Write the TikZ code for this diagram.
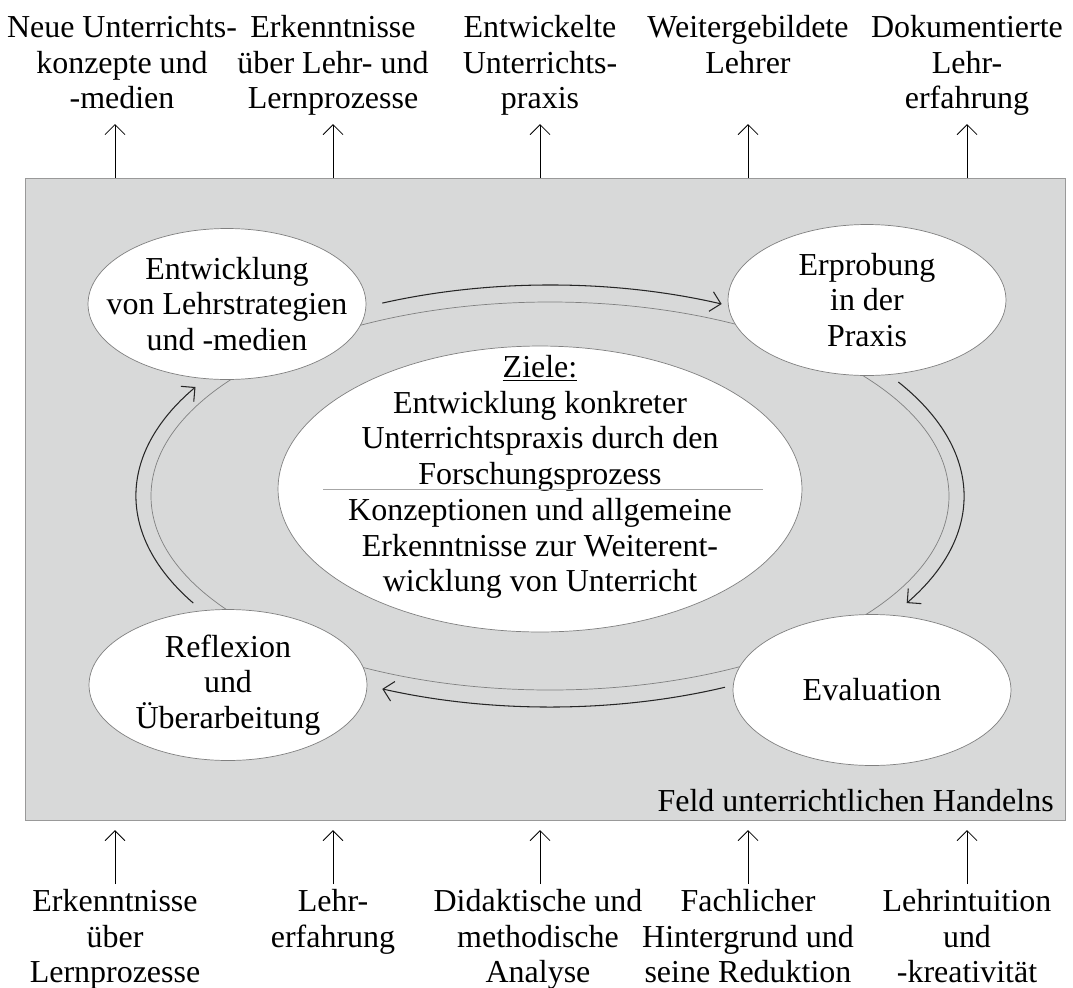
\documentclass[tikz,border=0pt]{standalone}
\usepackage{fontspec}
\setmainfont{Liberation Serif}
\usetikzlibrary{arrows.meta,shapes.geometric}
\definecolor{fieldgray}{RGB}{216,217,217}

\begin{document}
\begin{tikzpicture}[x=0.02cm, y=0.02cm, >={Straight Barb[length=2mm,width=4mm]},
  every node/.style={font=\fontsize{18.2}{20.2}\selectfont, align=center, inner sep=0pt},
  stage/.style={draw=gray, fill=white, ellipse, minimum width=5.56cm, minimum height=3.02cm, inner xsep=-14pt},
  up/.style={->, line width=0.5pt},
  flow/.style={->, line width=0.6pt, black!85}]
  \useasboundingbox (0,0) rectangle (1073,-988);

  % field of teaching
  \node[draw=gray!80, fill=fieldgray, minimum width=20.8cm, minimum height=12.84cm] (field) at (545,-499) {};
  \node[anchor=base east] (feld) at (1054,-811) {Feld unterrichtlichen Handelns};

  % cycle
  \draw[gray, line width=0.4pt] (550,-496) ellipse [x radius=399, y radius=194];
  \node[draw=gray, fill=white, ellipse, minimum width=10.48cm, minimum height=5.72cm] (goal) at (540,-489) {};
  \node[anchor=north] (ziele) at (540,-355) {\underline{Ziele:}\\Entwicklung konkreter\\Unterrichtspraxis durch den\\Forschungsprozess};
  \draw[gray!70] (323,-489) -- (763,-489);
  \node[anchor=north] (konz) at (540,-498) {Konzeptionen und allgemeine\\Erkenntnisse zur Weiterent-\\wicklung von Unterricht};

  \node[stage] (dev)  at (227,-304) {Entwicklung\\von Lehrstrategien\\und -medien};
  \node[stage] (test) at (867,-300) {Erprobung\\in der\\Praxis};
  \node[stage] (eval) at (872,-690) {Evaluation};
  \node[stage] (refl) at (228,-685) {Reflexion\\und\\Überarbeitung};

  \draw[flow] (550,-496) ++(113.9:414 and 211) arc[start angle=113.9, end angle=65.5, x radius=414, y radius=211];
  \draw[flow] (550,-496) ++(32.7:414 and 211) arc[start angle=32.7, end angle=-30.5, x radius=414, y radius=211];
  \draw[flow] (550,-496) ++(-65:414 and 211) arc[start angle=-65, end angle=-113.9, x radius=414, y radius=211];
  \draw[flow] (550,-496) ++(210.5:414 and 211) arc[start angle=210.5, end angle=148.9, x radius=414, y radius=211];

  % results
  \node[anchor=north] (neu)    at (122,-15) {Neue Unterrichts-\\konzepte und\\-medien};
  \node[anchor=north] (erk)    at (333,-15) {Erkenntnisse\\über Lehr- und\\Lernprozesse};
  \node[anchor=north] (praxis) at (540,-15) {Entwickelte\\Unterrichts-\\praxis};
  \node[anchor=north] (lehrer) at (748,-15) {Weitergebildete\\Lehrer};
  \node[anchor=north] (doku)   at (967,-15) {Dokumentierte\\Lehr-\\erfahrung};

  % sources
  \node[anchor=north] (lern)    at (115,-889) {Erkenntnisse\\über\\Lernprozesse};
  \node[anchor=north] (erf)     at (333,-889) {Lehr-\\erfahrung};
  \node[anchor=north] (analyse) at (538,-889) {Didaktische und\\methodische\\Analyse};
  \node[anchor=north] (fach)    at (748,-889) {Fachlicher\\Hintergrund und\\seine Reduktion};
  \node[anchor=north] (intu)    at (967,-889) {Lehrintuition\\und\\-kreativität};

  \foreach \x [count=\i] in {115,333,540,748,967} {
    \coordinate (out\i) at (\x,-124);
    \coordinate (in\i) at (\x,-830);
    \coordinate (src\i) at (\x,-884);
    \draw[up] (field.north -| out\i) -- (out\i);
    \draw[up] (src\i) -- (in\i);
  }
\end{tikzpicture}
\end{document}
